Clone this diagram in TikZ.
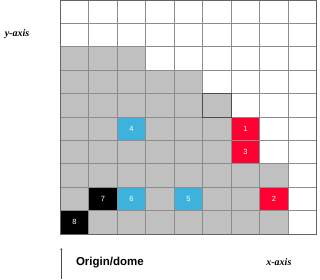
\documentclass[tikz,border=0pt]{standalone}
\usepackage{fontspec}
\usetikzlibrary{arrows.meta}
\setsansfont{Liberation Sans}
\newfontfamily\axisfont{Liberation Serif}
\definecolor{cellgray}{HTML}{C0C0C0}
\definecolor{gridgray}{HTML}{8C8C8C}
\definecolor{hotred}{HTML}{FF0033}
\definecolor{skyblue}{HTML}{3CB2DD}
\tikzset{
  cell/.style={minimum width=28.5pt, minimum height=23.4pt, inner sep=0pt,
    text=white, font=\sffamily\fontsize{7.5}{8}\selectfont},
  axislabel/.style={font=\axisfont\bfseries\itshape\fontsize{10}{12}\selectfont}
}
\begin{document}
\begin{tikzpicture}[x=28.5pt,y=-23.4pt]
\useasboundingbox (-2.116,0) rectangle (9.112,11.923);

% shaded part of the grid, row by row
\foreach \r/\n in {2/3,3/5,4/6,5/6,6/6,7/8,8/8,9/8}
  \fill[cellgray] (0,\r) rectangle (\n,\r+1);

\node[cell, fill=hotred] (one) at (6.5,5.5) {1};
\node[cell, fill=hotred] (two) at (7.5,8.5) {2};
\node[cell, fill=hotred] (three) at (6.5,6.5) {3};
\node[cell, fill=skyblue] (four) at (2.5,5.5) {4};
\node[cell, fill=skyblue] (five) at (4.5,8.5) {5};
\node[cell, fill=skyblue] (six) at (2.5,8.5) {6};
\node[cell, fill=black] (seven) at (1.5,8.5) {7};
\node[cell, fill=black] (eight) at (0.5,9.5) {8};

% grid lines
\foreach \c in {1,...,8}
  \draw[gridgray, line width=0.9pt] (\c,0) -- (\c,10);
\foreach \r in {1,...,9}
  \draw[gridgray, line width=0.9pt] (0,\r) -- (9,\r);
\draw[black!70, line width=0.9pt] (5,4) rectangle (6,5);
\draw[black!60, line width=0.9pt] (0,0) rectangle (9,10);

\node[axislabel] (yaxis) at (-1.52,1.45) {y-axis};
\node[axislabel] (xaxis) at (7.67,11.2) {x-axis};
\node[font=\sffamily\bfseries\fontsize{11.5}{13}\selectfont] (origin) at (1.74,11.2) {Origin/dome};

\coordinate (foot) at (0.035,11.92);
\coordinate (tip) at (0.035,10.6);
\draw[->, black!70, line width=0.5pt, >={Stealth[length=2pt,width=2pt]}] (foot) -- (tip);
\end{tikzpicture}
\end{document}
